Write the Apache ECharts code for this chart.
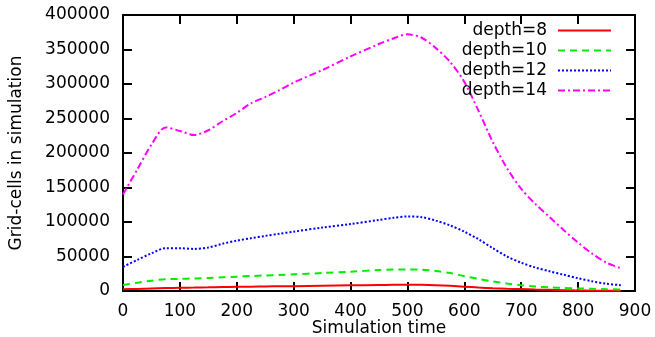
<!DOCTYPE html>
<html>
<head>
<meta charset="utf-8">
<script src="https://cdn.jsdelivr.net/npm/echarts@6/dist/echarts.min.js"></script>
<style>html,body{margin:0;padding:0;background:#fff}#c{width:655px;height:337px}</style>
</head>
<body>
<div id="c"></div>
<script>
var times = [0,25,50,75,100,125,150,175,200,225,250,275,300,350,400,450,475,500,525,550,575,600,625,650,675,700,725,750,775,800,825,850,875];
var depth8 = [2400,3000,3600,4200,4700,5000,5300,5700,6000,6300,6600,6800,7000,7600,8200,8700,9000,9200,9000,8400,7500,6300,5000,4000,3300,2800,2200,1700,1200,800,500,300,200];
var depth10 = [8700,12000,15000,17000,17600,18200,18800,19800,20700,21700,22500,23300,24200,26000,28000,30300,31000,31200,30800,29000,26000,21500,17500,14000,10800,8300,6500,5200,4400,3800,3200,2700,2300];
var depth12 = [35000,45000,54600,62000,62000,61000,63000,68500,73000,76500,79800,83000,86000,92000,97000,103000,106000,108000,107000,102000,95000,86000,75000,62000,50000,41000,34000,28500,23500,18500,14000,10500,8500];
var depth14 = [140000,176000,212000,237000,232000,226000,233000,246000,258000,272000,281000,291000,302000,320000,340000,358000,366000,372000,367000,352000,332000,303000,261000,216000,178000,148000,126000,107000,88000,70000,54000,41000,33000];
var seriesNames = ['depth=8','depth=10','depth=12','depth=14'];
var xTitle = 'Simulation time';
var yTitle = 'Grid-cells in simulation';

function pairs(v){ return times.map(function(t,i){ return [t, v[i]]; }); }

var font = 'DejaVu Sans';
var fs = 17;
var styles = [
  {color:'#ff0000', type:'solid'},
  {color:'#00ee00', type:[7,5]},
  {color:'#0000ff', type:[2,2]},
  {color:'#ff00ff', type:[7,3,2,3]}
];
var values = [depth8, depth10, depth12, depth14];

var chart = echarts.init(document.getElementById('c'), null, {renderer:'canvas'});
function axisLine(onZero){ return {show:true, onZero:onZero, lineStyle:{color:'#000', width:2}}; }
function tick(){ return {show:true, inside:true, length:9, lineStyle:{color:'#000', width:2}}; }
function plain(v){ return String(v); }
chart.setOption({
  animation:false,
  backgroundColor:'#fff',
  grid:{left:123, right:20, top:15, bottom:46, outerBounds:{left:0, top:0, right:0, bottom:0}, outerBoundsContain:'axisLabel'},
  legend:{
    orient:'vertical', right:43, top:22, align:'right', padding:0,
    itemWidth:53, itemHeight:14, itemGap:3,
    itemStyle:{opacity:0},
    textStyle:{fontFamily:font, fontSize:fs, color:'#000', padding:[0,6,0,0]},
    data:seriesNames
  },
  xAxis:[{
    type:'value', min:0, max:900, interval:100, position:'bottom',
    axisLine:axisLine(true), axisTick:tick(), splitLine:{show:false},
    axisLabel:{fontFamily:font, fontSize:fs, color:'#000', margin:12, formatter:plain},
    name:xTitle, nameLocation:'middle', nameGap:29, nameMoveOverlap:false,
    nameTextStyle:{fontFamily:font, fontSize:fs, color:'#000'}
  },{
    type:'value', min:0, max:900, interval:100, position:'top',
    axisLine:axisLine(false), axisTick:tick(), splitLine:{show:false}, axisLabel:{show:false}
  }],
  yAxis:[{
    type:'value', min:0, max:400000, interval:50000, position:'left',
    axisLine:axisLine(true), axisTick:tick(), splitLine:{show:false},
    axisLabel:{fontFamily:font, fontSize:fs, color:'#000', margin:13, formatter:plain},
    name:yTitle, nameLocation:'middle', nameGap:98, nameRotate:90, nameMoveOverlap:false,
    nameTextStyle:{fontFamily:font, fontSize:fs, color:'#000'}
  },{
    type:'value', min:0, max:400000, interval:50000, position:'right',
    axisLine:axisLine(false), axisTick:tick(), splitLine:{show:false}, axisLabel:{show:false}
  }],
  series: seriesNames.map(function(n,i){
    return {
      name:n, type:'line', data:pairs(values[i]), smooth:0.3,
      symbol:'none', color:styles[i].color,
      lineStyle:{color:styles[i].color, width:2, type:styles[i].type}
    };
  })
});
</script>
</body>
</html>
